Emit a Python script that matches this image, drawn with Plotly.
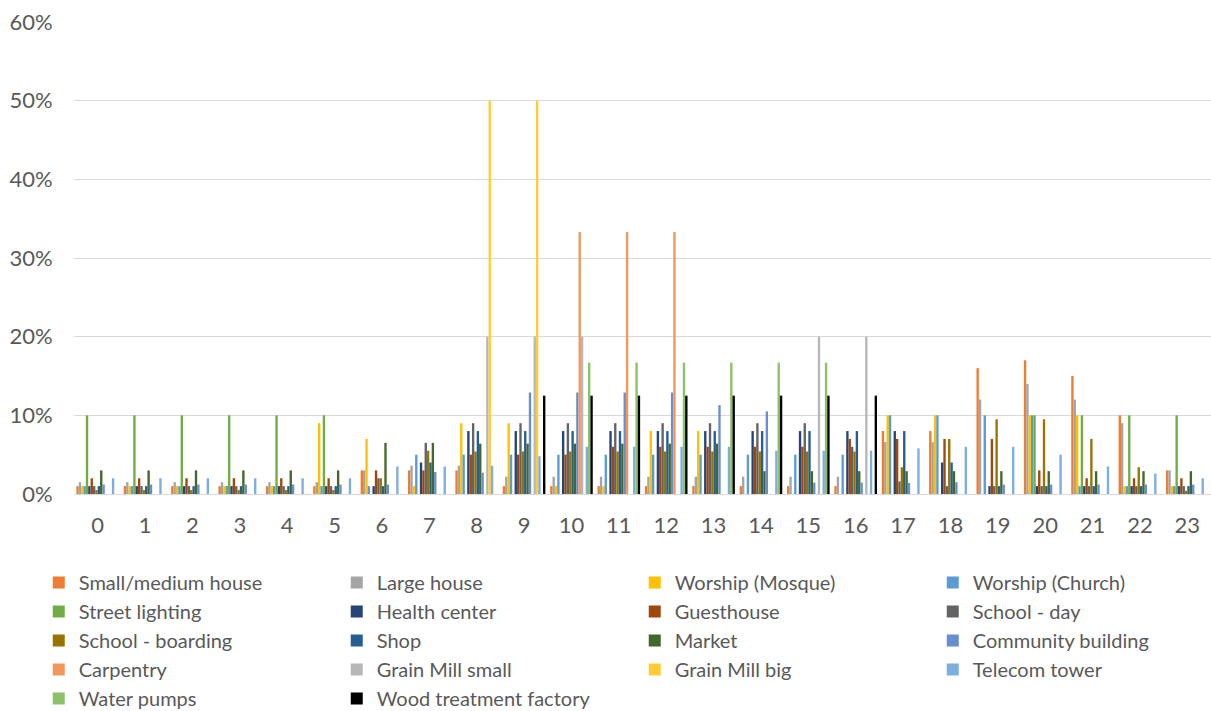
import plotly.graph_objects as go

hours = [str(h) for h in range(24)]

small_medium_house = [1, 1, 1, 1, 1, 1, 3, 3, 3, 1, 1, 1, 1, 1, 1, 1, 1, 8, 8, 16, 17, 15, 10, 3]
large_house = [1.5] * 6 + [3, 3.6, 3.6] + [2.2] * 8 + [6.6, 6.6, 12, 14, 12, 9, 3]
worship_mosque = [1, 1, 1, 1, 1, 9, 7, 1, 9, 9, 1, 1, 8, 8, 0, 0, 0, 10, 10, 0, 10, 10, 1, 1]
worship_church = [1] * 7 + [5] * 10 + [10, 10, 10, 10, 1, 1, 1]
street_lighting = [10] * 6 + [0] * 14 + [10] * 4
health_center = [1] * 7 + [4] + [8] * 9 + [8, 4] + [1] * 5
guesthouse = [2] * 6 + [3, 3] + [5, 5, 5] + [6] * 5 + [7, 7, 7, 7] + [3, 2, 2, 2]
school_day = [1] * 6 + [2, 6.5] + [9] * 8 + [6, 1.6, 1] + [1] * 5
school_boarding = [0.5] * 6 + [2, 5.5] + [5.4] * 9 + [3.4, 7, 9.5, 9.5, 7, 3.4, 0.4]
shop = [1] * 7 + [4] + [8] * 9 + [8, 4] + [1] * 5
market = [3] * 6 + [6.5, 6.5] + [6.4] * 6 + [2.9] * 10
community_building = [1.2] * 7 + [2.8, 2.7] + [12.9] * 4 + [11.3, 10.5, 1.45, 1.45, 1.4, 1.5] + [1.2] * 5
carpentry = [0] * 10 + [33.3] * 3 + [0] * 11
grain_mill_small = [0] * 8 + [20, 20, 20] + [0] * 4 + [20, 20] + [0] * 7
grain_mill_big = [0] * 8 + [50, 50] + [0] * 14
telecom_tower = [2] * 6 + [3.5, 3.5, 3.6, 4.8] + [6] * 4 + [5.5] * 3 + [5.8, 6, 6, 5, 3.5, 2.6, 2]
water_pumps = [0] * 10 + [16.7] * 6 + [0] * 8
wood_treatment_factory = [0] * 9 + [12.5] * 8 + [0] * 7

series = [
    ("Small/medium house", small_medium_house, "#ED7D31"),
    ("Large house", large_house, "#A5A5A5"),
    ("Worship (Mosque)", worship_mosque, "#FFC000"),
    ("Worship (Church)", worship_church, "#5B9BD5"),
    ("Street lighting", street_lighting, "#70AD47"),
    ("Health center", health_center, "#264478"),
    ("Guesthouse", guesthouse, "#9E480E"),
    ("School - day", school_day, "#636363"),
    ("School - boarding", school_boarding, "#997300"),
    ("Shop", shop, "#255E91"),
    ("Market", market, "#43682B"),
    ("Community building", community_building, "#698ED0"),
    ("Carpentry", carpentry, "#F1975A"),
    ("Grain Mill small", grain_mill_small, "#B7B7B7"),
    ("Grain Mill big", grain_mill_big, "#FFCD33"),
    ("Telecom tower", telecom_tower, "#7CAFDD"),
    ("Water pumps", water_pumps, "#8CC168"),
    ("Wood treatment factory", wood_treatment_factory, "#000000"),
]

fig = go.Figure()
for name, values, color in series:
    fig.add_trace(go.Bar(
        x=hours, y=values, name=name,
        marker=dict(color=color, line=dict(width=0)),
    ))

font_family = "Lato, 'Open Sans', sans-serif"
text_color = "#595959"

fig.update_layout(
    width=1211, height=711,
    margin=dict(l=74, r=0, t=22, b=217, autoexpand=False),
    paper_bgcolor="white", plot_bgcolor="white",
    barmode="group", bargap=0.1, bargroupgap=0,
    font=dict(family=font_family, size=22, color=text_color),
    showlegend=True,
    legend=dict(
        orientation="h",
        x=-0.031, xanchor="left",
        y=-0.146, yanchor="top",
        entrywidth=253, entrywidthmode="pixels",
        font=dict(family=font_family, size=20, color=text_color),
        traceorder="normal",
        bgcolor="rgba(0,0,0,0)",
    ),
    xaxis=dict(
        type="category",
        showgrid=False,
        showline=True, linecolor="#D9D9D9", linewidth=1,
        ticks="outside", ticklen=12, tickcolor="rgba(0,0,0,0)",
        tickfont=dict(size=22, color=text_color),
    ),
    yaxis=dict(
        range=[0, 60], dtick=10, tick0=0,
        ticksuffix="%",
        showgrid=True, gridcolor="#D9D9D9", gridwidth=1,
        zeroline=False,
        ticks="outside", ticklen=16, tickcolor="rgba(0,0,0,0)",
        tickfont=dict(size=22, color=text_color),
    ),
)

fig.write_html("out.html")
